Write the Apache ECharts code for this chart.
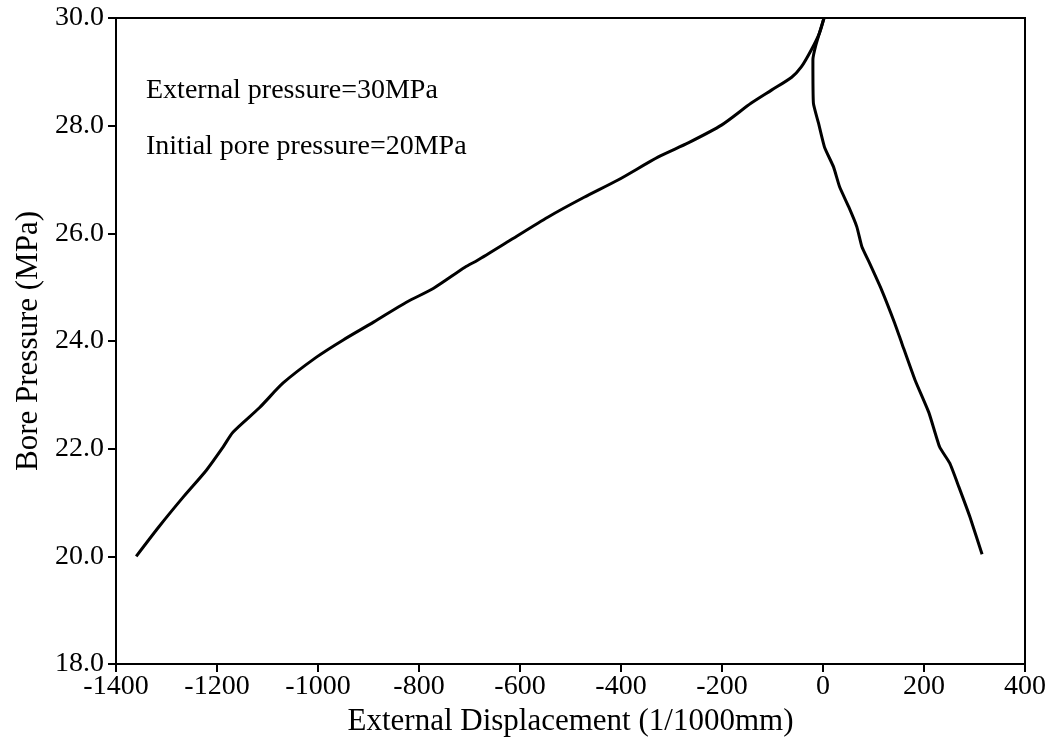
<!DOCTYPE html>
<html>
<head>
<meta charset="utf-8">
<script src="https://cdn.jsdelivr.net/npm/echarts@6/dist/echarts.min.js"></script>
<style>
  html, body { margin: 0; padding: 0; background: #fff; }
  #container { width: 1058px; height: 742px; }
</style>
</head>
<body>
<div id="container"></div>
<script>
// loading branch: displacement (1/1000mm) vs bore pressure (MPa)
var loadDisp = [-1360, -1315, -1267, -1221, -1188, -1168, -1116, -1069, -1003, -950, -890, -825,
                -771, -709, -684, -618, -545, -473, -406, -326, -267, -201, -142, -102, -62, -43, -23, -7, 2];
var loadPres = [20.0, 20.55, 21.10, 21.60, 22.03, 22.31, 22.76, 23.22, 23.70, 24.02, 24.35, 24.72,
                24.98, 25.37, 25.50, 25.88, 26.30, 26.67, 26.99, 27.42, 27.68, 28.01, 28.42, 28.66, 28.90, 29.09, 29.41, 29.72, 30.0];

// second branch
var unloadDisp = [2, -14, -20, -19, -9, 3, 21, 33, 51, 67, 77, 92, 116, 142, 156, 182, 210, 231, 251, 269, 291, 315];
var unloadPres = [30.0, 29.5, 29.22, 28.42, 28.05, 27.60, 27.23, 26.86, 26.49, 26.12, 25.75, 25.45, 24.95,
                  24.33, 23.96, 23.28, 22.66, 22.03, 21.73, 21.29, 20.73, 20.04];

var xTicks = [-1400, -1200, -1000, -800, -600, -400, -200, 0, 200, 400];
var yTicks = [18, 20, 22, 24, 26, 28, 30];

var notes = ['External pressure=30MPa', 'Initial pore pressure=20MPa'];

function pairs(xs, ys) {
    var out = [];
    for (var i = 0; i < xs.length; i++) out.push([xs[i], ys[i]]);
    return out;
}

var dom = document.getElementById("container");
var myChart = echarts.init(dom);
var font = 'Liberation Serif';

var option = {
    animation: false,
    grid: {
        left: 116,
        top: 18,
        right: 33,
        bottom: 78,
        show: true,
        borderColor: '#000',
        borderWidth: 2
    },
    xAxis: {
        type: 'value',
        min: xTicks[0],
        max: xTicks[xTicks.length - 1],
        interval: 200,
        name: 'External Displacement (1/1000mm)',
        nameLocation: 'middle',
        nameGap: 38,
        nameTextStyle: { fontFamily: font, fontSize: 31, color: '#000' },
        axisLine: { onZero: false, lineStyle: { color: '#000', width: 2 } },
        axisTick: { show: true, length: 8, lineStyle: { color: '#000', width: 2 } },
        axisLabel: {
            fontFamily: font, fontSize: 28, color: '#000', margin: 9,
            formatter: function (v) { return String(v); }
        },
        splitLine: { show: false }
    },
    yAxis: {
        type: 'value',
        min: yTicks[0],
        max: yTicks[yTicks.length - 1],
        interval: 2,
        name: 'Bore Pressure (MPa)',
        nameLocation: 'middle',
        nameGap: 72,
        nameTextStyle: { fontFamily: font, fontSize: 31, color: '#000' },
        axisLine: { show: true, onZero: false, lineStyle: { color: '#000', width: 2 } },
        axisTick: { show: true, length: 8, lineStyle: { color: '#000', width: 2 } },
        axisLabel: {
            fontFamily: font, fontSize: 28, color: '#000', margin: 12,
            formatter: function (v) { return v.toFixed(1); }
        },
        splitLine: { show: false }
    },
    graphic: [
        { type: 'text', left: 146, top: 77, style: { text: notes[0], font: '28px "Liberation Serif"', fill: '#000' } },
        { type: 'text', left: 146, top: 133, style: { text: notes[1], font: '28px "Liberation Serif"', fill: '#000' } }
    ],
    series: [
        {
            name: 'loading',
            type: 'line',
            showSymbol: false,
            smooth: 0.25,
            lineStyle: { color: '#000', width: 3 },
            data: pairs(loadDisp, loadPres)
        },
        {
            name: 'unloading',
            type: 'line',
            showSymbol: false,
            smooth: 0.15,
            lineStyle: { color: '#000', width: 3 },
            data: pairs(unloadDisp, unloadPres)
        }
    ]
};
myChart.setOption(option, true);
</script>
</body>
</html>
